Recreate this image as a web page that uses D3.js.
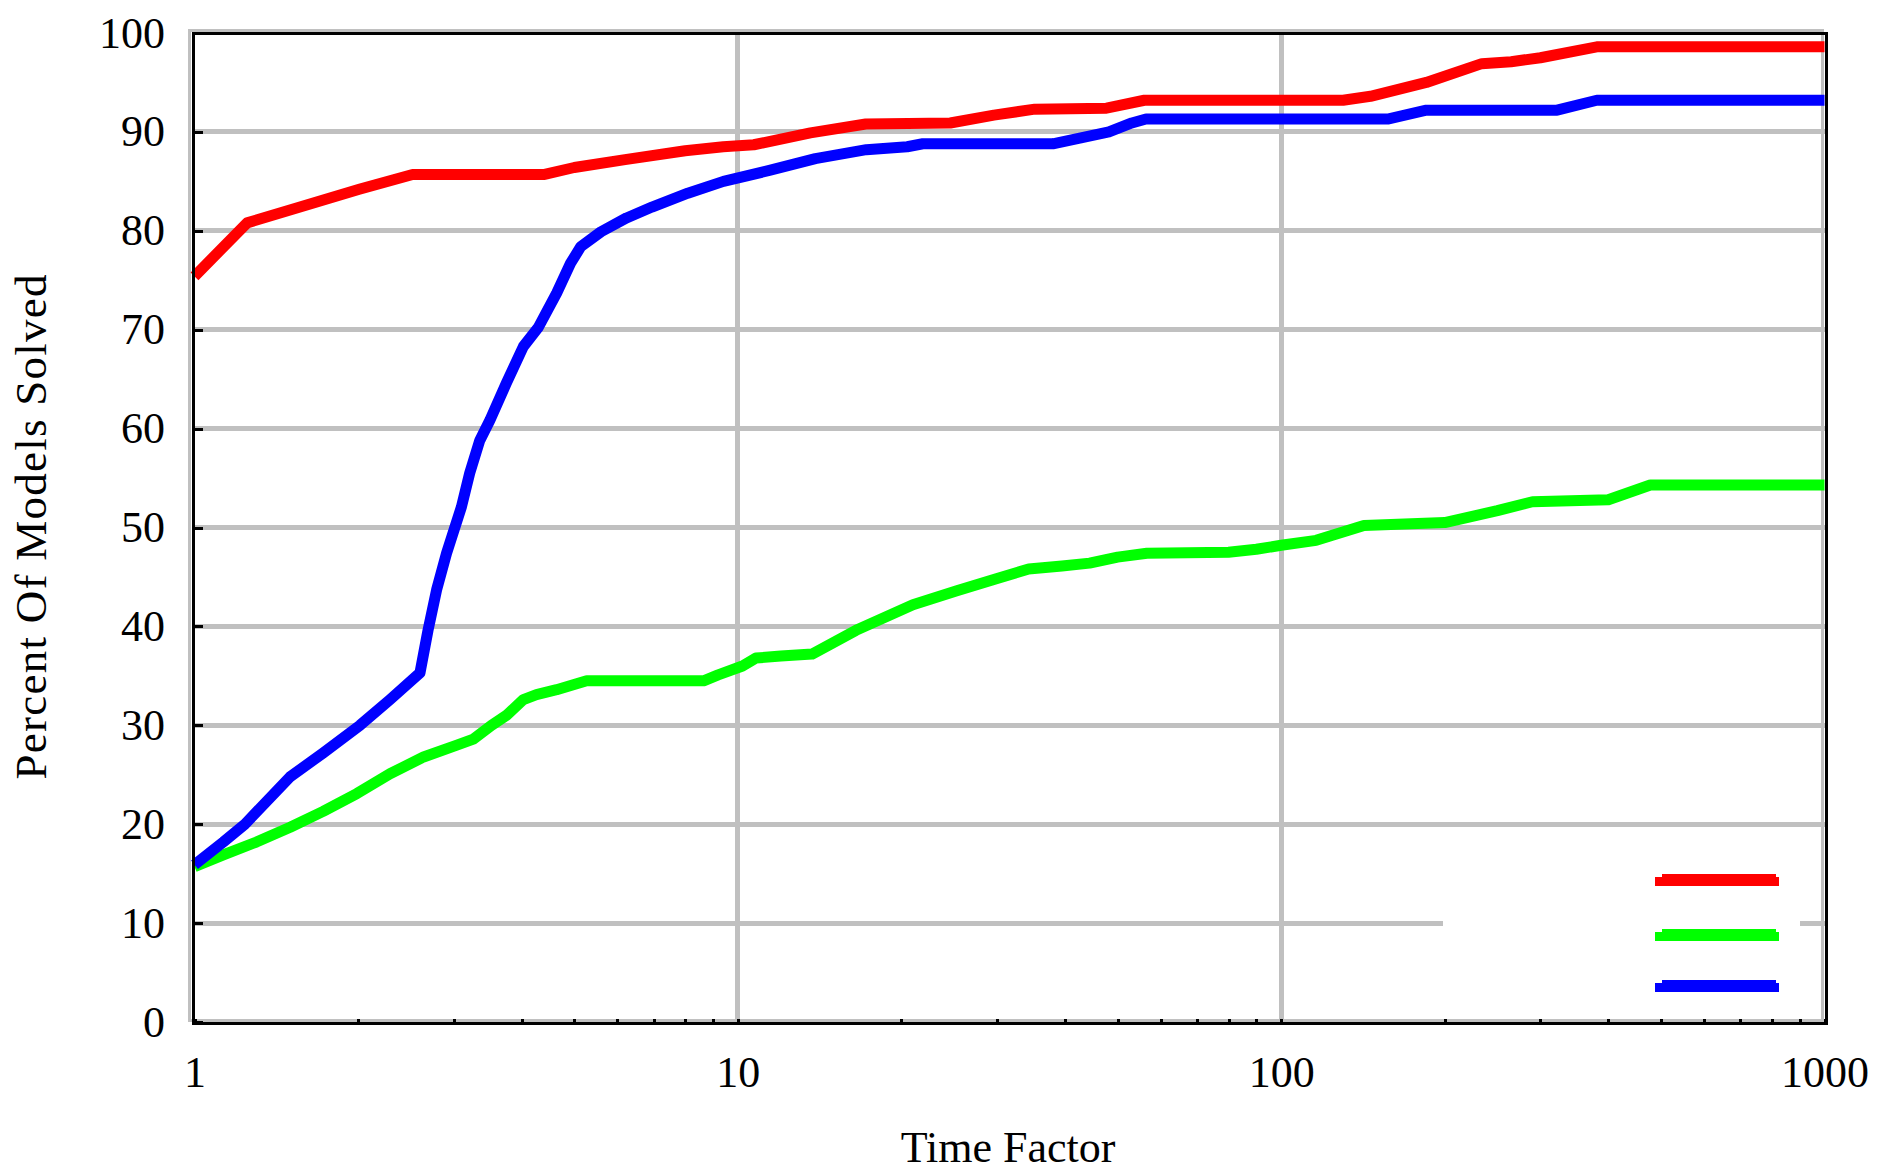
<!DOCTYPE html>
<html>
<head>
<meta charset="utf-8">
<script src="https://cdn.jsdelivr.net/npm/d3@7"></script>
<style>
  html, body { margin: 0; padding: 0; background: #ffffff; }
  svg { display: block; }
  text { font-family: "Liberation Serif", "DejaVu Serif", serif; fill: #000; }
</style>
</head>
<body>
<svg id="chart" width="1877" height="1172"></svg>
<script>
// ---- data ----
const xTickValues = [1, 10, 100, 1000];
const xTickLabels = ["1", "10", "100", "1000"];
const yTickValues = [0, 10, 20, 30, 40, 50, 60, 70, 80, 90, 100];
const xTitle = "Time Factor";
const yTitle = "Percent Of Models Solved";
const seriesColors = ["#ff0000", "#00ff00", "#0000ff"];

const redX = [1, 1.25, 1.52, 2.01, 2.52, 4.41, 5.0, 6.2, 8.0, 9.4, 10.7, 13.6, 17.2, 24.6, 29.6, 35.2, 47.7, 56, 130, 146, 185, 234, 265, 300, 381, 1000];
const redY = [75.4, 80.8, 82.2, 84.2, 85.7, 85.7, 86.4, 87.2, 88.1, 88.5, 88.7, 89.9, 90.8, 90.9, 91.7, 92.3, 92.4, 93.2, 93.2, 93.6, 95.0, 96.9, 97.1, 97.5, 98.6, 98.6];

const greenX = [1, 1.13, 1.30, 1.50, 1.725, 1.99, 2.29, 2.64, 3.04, 3.26, 3.52, 3.75, 4.03, 4.26, 4.64, 5.05, 5.27, 8.65, 9.2, 10.2, 10.8, 12.0, 13.7, 16.5, 21.0, 25.3, 29.8, 34.3, 39.5, 44.4, 50, 56.6, 80, 90, 100, 116, 142, 200, 250, 290, 400, 478, 1000];
const greenY = [15.7, 16.9, 18.2, 19.7, 21.3, 23.1, 25.1, 26.8, 28.0, 28.6, 30.0, 31.0, 32.6, 33.1, 33.6, 34.2, 34.5, 34.5, 35.1, 36.0, 36.8, 37.0, 37.2, 39.6, 42.2, 43.6, 44.8, 45.8, 46.1, 46.4, 47.0, 47.4, 47.5, 47.8, 48.2, 48.7, 50.2, 50.5, 51.7, 52.6, 52.8, 54.3, 54.3];

const blueX = [1, 1.13, 1.238, 1.50, 1.725, 2.016, 2.29, 2.60, 2.69, 2.79, 2.91, 3.10, 3.21, 3.35, 3.50, 3.75, 4.03, 4.29, 4.64, 4.92, 5.14, 5.60, 6.24, 6.95, 8.09, 9.41, 11.43, 13.89, 17.24, 20.5, 21.9, 38.0, 42.8, 48.2, 53.1, 56.4, 157, 185, 322, 381, 1000];
const blueY = [15.9, 18.2, 20.0, 24.8, 27.2, 30.0, 32.6, 35.3, 39.6, 43.7, 47.4, 52.1, 55.5, 58.8, 60.9, 64.6, 68.3, 70.2, 73.7, 76.7, 78.4, 79.9, 81.3, 82.4, 83.8, 85.0, 86.1, 87.3, 88.2, 88.5, 88.8, 88.8, 89.4, 90.0, 90.9, 91.3, 91.3, 92.2, 92.2, 93.2, 93.2];

// ---- layout ----
const svg = d3.select("#chart");
const plot = { left: 193, right: 1826, top: 33, bottom: 1023 };

const x = d3.scaleLog().domain([1, 1000]).range([194.5, 1824.5]);
const y = d3.scaleLinear().domain([0, 100]).range([1022, 33]);

svg.append("rect").attr("width", 1877).attr("height", 1172).attr("fill", "#ffffff");

// gray shadow frame (offset up-left)
svg.append("rect")
  .attr("x", plot.left - 3.5).attr("y", plot.top - 2.5)
  .attr("width", plot.right - plot.left).attr("height", plot.bottom - plot.top)
  .attr("fill", "none").attr("stroke", "#c0c0c0").attr("stroke-width", 3)
  .attr("shape-rendering", "crispEdges");

// grid lines
const grid = svg.append("g").attr("shape-rendering", "crispEdges");
grid.selectAll("line.hy").data(yTickValues.filter(d => d > 0 && d < 100)).enter()
  .append("line").attr("class", "hy")
  .attr("x1", plot.left).attr("x2", plot.right)
  .attr("y1", d => y(d)).attr("y2", d => y(d))
  .attr("stroke", "#c0c0c0").attr("stroke-width", 5);
grid.selectAll("line.vx").data(xTickValues.filter(d => d > 1 && d < 1000)).enter()
  .append("line").attr("class", "vx")
  .attr("y1", plot.top).attr("y2", plot.bottom)
  .attr("x1", d => x(d)).attr("x2", d => x(d))
  .attr("stroke", "#c0c0c0").attr("stroke-width", 5);

// legend background (covers grid)
const legend = svg.append("g").attr("shape-rendering", "crispEdges");
legend.append("rect")
  .attr("x", 1443).attr("y", 855).attr("width", 357).attr("height", 155)
  .attr("fill", "#ffffff");

// series lines
const line = d3.line().x(d => x(d[0])).y(d => y(d[1]));
const series = [
  { xs: greenX, ys: greenY, color: seriesColors[1] },
  { xs: blueX, ys: blueY, color: seriesColors[2] },
  { xs: redX, ys: redY, color: seriesColors[0] }
];
series.forEach(s => {
  svg.append("path")
    .datum(s.xs.map((v, i) => [v, s.ys[i]]))
    .attr("d", line)
    .attr("fill", "none")
    .attr("stroke", s.color)
    .attr("stroke-width", 11)
    .attr("stroke-linejoin", "round")
    .attr("stroke-linecap", "butt");
});

// legend swatches
[0, 1, 2].forEach(i => {
  legend.append("rect")
    .attr("x", 1655).attr("y", [877, 932, 983][i])
    .attr("width", 124).attr("height", 9)
    .attr("fill", seriesColors[i]);
  legend.append("rect")
    .attr("x", 1662).attr("y", [874, 929, 980][i])
    .attr("width", 114).attr("height", 4)
    .attr("fill", seriesColors[i]);
});

// black frame
svg.append("rect")
  .attr("x", plot.left).attr("y", plot.top)
  .attr("width", plot.right - plot.left).attr("height", plot.bottom - plot.top)
  .attr("fill", "none").attr("stroke", "#000").attr("stroke-width", 3)
  .attr("shape-rendering", "crispEdges");

// y axis ticks (inside) + labels
const yAxis = d3.axisRight(y).tickValues(yTickValues).tickSize(10).tickFormat(d3.format("d"));
const gy = svg.append("g").attr("transform", `translate(${plot.left},0)`).call(yAxis);
gy.select(".domain").remove();
gy.selectAll(".tick line").attr("stroke", "#000").attr("stroke-width", 3).attr("shape-rendering", "crispEdges");
gy.selectAll(".tick text")
  .attr("x", -28).attr("dy", "0.32em")
  .attr("text-anchor", "end")
  .style("font-family", "'Liberation Serif', serif")
  .style("font-size", "44px").attr("fill", "#000");

// x axis minor ticks (inside) + labels
const minorTicks = x.ticks(30).filter(d => xTickValues.indexOf(d) < 0);
const xAxis = d3.axisTop(x).tickValues(xTickValues.concat(minorTicks)).tickSize(4)
  .tickFormat(d => { const k = xTickValues.indexOf(d); return k >= 0 ? xTickLabels[k] : ""; });
const gx = svg.append("g").attr("transform", `translate(0,${plot.bottom})`).call(xAxis);
gx.select(".domain").remove();
gx.selectAll(".tick line").attr("stroke", "#000").attr("stroke-width", 3).attr("shape-rendering", "crispEdges");
gx.selectAll(".tick text")
  .attr("y", 64).attr("dy", 0)
  .attr("text-anchor", "middle")
  .style("font-family", "'Liberation Serif', serif")
  .style("font-size", "44px").attr("fill", "#000");

// axis titles
svg.append("text")
  .attr("x", 1008).attr("y", 1162)
  .attr("text-anchor", "middle")
  .style("font-size", "44px")
  .text(xTitle);
svg.append("text")
  .attr("transform", "translate(46,527) rotate(-90)")
  .attr("text-anchor", "middle")
  .attr("textLength", 505)
  .attr("lengthAdjust", "spacing")
  .style("font-size", "45px")
  .text(yTitle);
</script>
</body>
</html>
